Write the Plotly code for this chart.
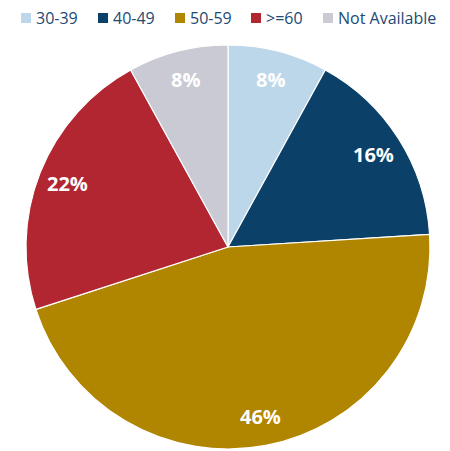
import math
import plotly.graph_objects as go

categories = ["30-39", "40-49", "50-59", ">=60", "Not Available"]
values = [8, 16, 46, 22, 8]
colors = ["#BDD7EA", "#0B4168", "#B08600", "#B22631", "#C9CAD4"]

W, H = 450, 451
OFF = 8  # browser page margin
L, R, T, B = 0, 10, 37, 10
pw, ph = W - L - R, H - T - B
rad = min(pw, ph) / 2

fig = go.Figure(go.Pie(
    labels=categories,
    values=values,
    sort=False,
    direction="clockwise",
    rotation=0,
    marker=dict(colors=colors, line=dict(color="white", width=1.2)),
    textinfo="none",
    hoverinfo="label+percent",
    showlegend=False,
))

# percentage labels placed along each slice's mid-angle
total = sum(values)
cum = 0
annotations = []
for v in values:
    mid = (cum + v / 2) / total * 2 * math.pi
    cum += v
    r = 0.855 * rad
    annotations.append(dict(
        x=0.5 + r * math.sin(mid) / pw,
        y=0.5 + r * math.cos(mid) / ph,
        xref="paper", yref="paper",
        text=f"{round(v / total * 100)}%",
        showarrow=False,
        font=dict(family="Open Sans", size=20, color="white", weight="bold"),
        xanchor="center", yanchor="middle",
    ))

# custom legend (positions in window pixels)
legend_x = [21, 98, 175, 251, 323]
legend_y = 18
shapes = []
for cat, col, lx in zip(categories, colors, legend_x):
    fx = lx - OFF
    fy = legend_y - OFF
    shapes.append(dict(type="rect", xref="paper", yref="paper",
                       x0=(fx - L) / pw, x1=(fx + 10 - L) / pw,
                       y0=(H - B - (fy + 5)) / ph, y1=(H - B - (fy - 5)) / ph,
                       fillcolor=col, line=dict(width=0)))
    annotations.append(dict(
        x=(fx + 13 - L) / pw, y=(H - B - fy) / ph,
        xref="paper", yref="paper", text=cat, showarrow=False,
        xanchor="left", yanchor="middle",
        font=dict(family="Open Sans", size=16, color="#1C4A74"),
    ))

fig.update_layout(
    width=W, height=H,
    margin=dict(l=L, r=R, t=T, b=B),
    paper_bgcolor="white",
    annotations=annotations,
    shapes=shapes,
)

fig.write_html("out.html")
